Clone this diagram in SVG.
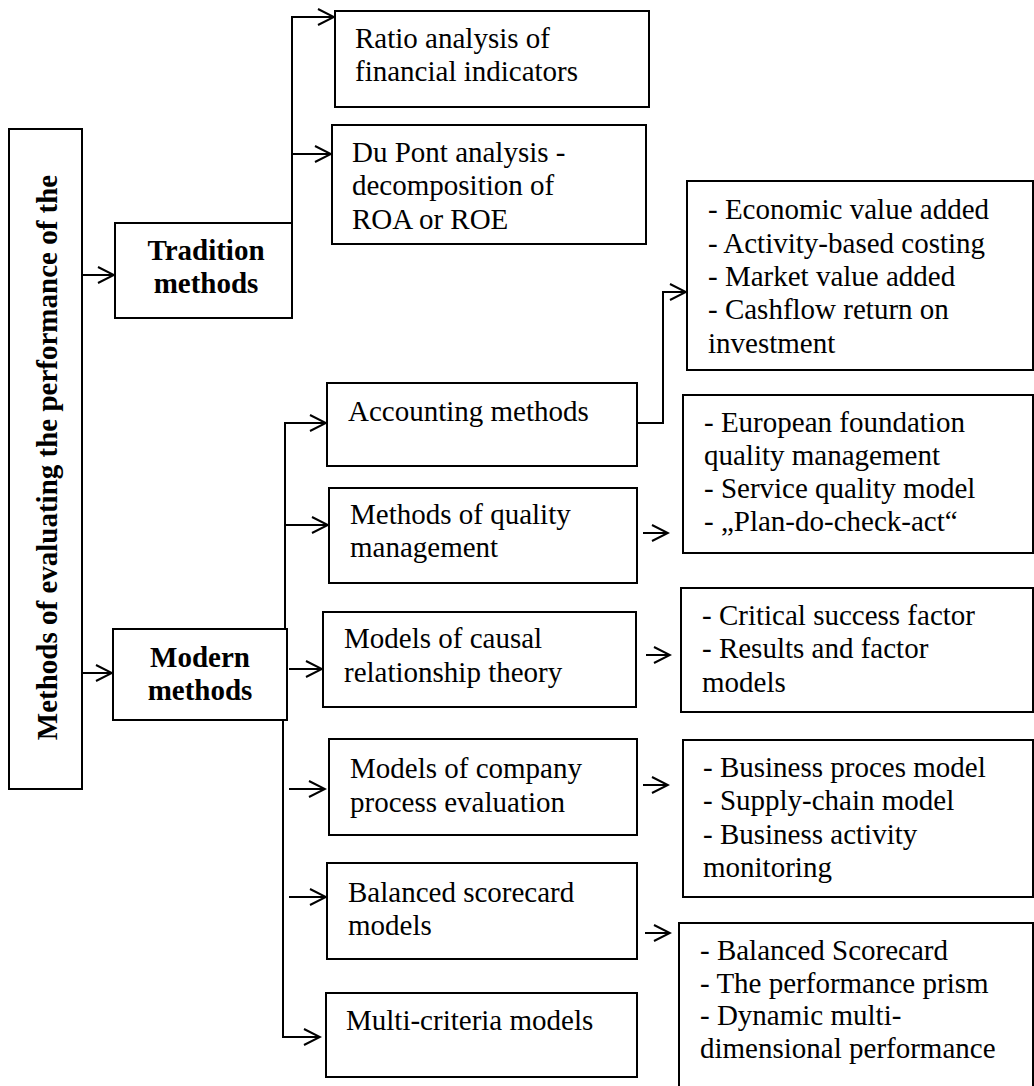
<svg xmlns="http://www.w3.org/2000/svg" width="1034" height="1086" viewBox="0 0 1034 1086">
<style>
.box{fill:#fff;stroke:#000;stroke-width:2}
.t{font-family:"Liberation Serif","Times New Roman",serif;font-size:29px;fill:#000}
.b{font-family:"Liberation Serif","Times New Roman",serif;font-size:29px;font-weight:bold;fill:#000}
.c{fill:none;stroke:#000;stroke-width:2}
</style>
<defs>
<marker id="ah" markerUnits="userSpaceOnUse" markerWidth="20" markerHeight="20" viewBox="-18 -10 20 20" refX="0" refY="0" orient="auto">
<path d="M-16,-8 L0,0 L-16,8" fill="none" stroke="#000" stroke-width="2"/>
</marker>
</defs>
<rect width="1034" height="1086" fill="#fff"/>

<g id="connectors">
<path class="c" d="M82,275 H114" marker-end="url(#ah)"/>
<path class="c" d="M82,673 H112" marker-end="url(#ah)"/>
<path class="c" d="M292,223 V17 H334" marker-end="url(#ah)"/>
<path class="c" d="M292,154 H331" marker-end="url(#ah)"/>
<path class="c" d="M285,629 V423 H326" marker-end="url(#ah)"/>
<path class="c" d="M285,525 H328" marker-end="url(#ah)"/>
<path class="c" d="M289,669 H322" marker-end="url(#ah)"/>
<path class="c" d="M289,789 H325" marker-end="url(#ah)"/>
<path class="c" d="M289,897 H326" marker-end="url(#ah)"/>
<path class="c" d="M283,720 V1037 H320" marker-end="url(#ah)"/>
<path class="c" d="M637,423 H663 V292 H686" marker-end="url(#ah)"/>
<path class="c" d="M643,533 H668" marker-end="url(#ah)"/>
<path class="c" d="M646,655 H670" marker-end="url(#ah)"/>
<path class="c" d="M643,785 H668" marker-end="url(#ah)"/>
<path class="c" d="M645,933 H670" marker-end="url(#ah)"/>
</g>

<g id="root">
<rect class="box" x="9" y="129" width="73" height="660"/>
<text class="b" transform="translate(57,457.5) rotate(-90)" text-anchor="middle">Methods of evaluating the performance of the</text>
</g>

<g id="tradition">
<rect class="box" x="115" y="223" width="177" height="95"/>
<text class="b" x="206" y="260" text-anchor="middle">Tradition</text>
<text class="b" x="206" y="293" text-anchor="middle">methods</text>
</g>

<g id="modern">
<rect class="box" x="113" y="629" width="174" height="91"/>
<text class="b" x="200" y="667" text-anchor="middle">Modern</text>
<text class="b" x="200" y="700" text-anchor="middle">methods</text>
</g>

<g id="ratio">
<rect class="box" x="335" y="11" width="314" height="96"/>
<text class="t" x="355" y="48">Ratio analysis of</text>
<text class="t" x="355" y="81">financial indicators</text>
</g>

<g id="dupont">
<rect class="box" x="332" y="125" width="314" height="119"/>
<text class="t" x="352" y="162">Du Pont analysis -</text>
<text class="t" x="352" y="195">decomposition of</text>
<text class="t" x="352" y="229">ROA or ROE</text>
</g>

<g id="accounting">
<rect class="box" x="327" y="383" width="310" height="83"/>
<text class="t" x="348" y="421">Accounting methods</text>
</g>

<g id="quality">
<rect class="box" x="329" y="488" width="308" height="95"/>
<text class="t" x="350" y="524">Methods of quality</text>
<text class="t" x="350" y="557">management</text>
</g>

<g id="causal">
<rect class="box" x="323" y="612" width="313" height="95"/>
<text class="t" x="344" y="648">Models of causal</text>
<text class="t" x="344" y="682">relationship theory</text>
</g>

<g id="company">
<rect class="box" x="329" y="739" width="308" height="96"/>
<text class="t" x="350" y="778">Models of company</text>
<text class="t" x="350" y="812">process evaluation</text>
</g>

<g id="bscmodels">
<rect class="box" x="327" y="863" width="310" height="96"/>
<text class="t" x="348" y="902">Balanced scorecard</text>
<text class="t" x="348" y="935">models</text>
</g>

<g id="multi">
<rect class="box" x="326" y="993" width="311" height="84"/>
<text class="t" x="346" y="1030">Multi-criteria models</text>
</g>

<g id="economic">
<rect class="box" x="687" y="181" width="346" height="189"/>
<text class="t" x="708" y="219">- Economic value added</text>
<text class="t" x="708" y="253">- Activity-based costing</text>
<text class="t" x="708" y="286">- Market value added</text>
<text class="t" x="708" y="319">- Cashflow return on</text>
<text class="t" x="708" y="353">investment</text>
</g>

<g id="european">
<rect class="box" x="683" y="395" width="350" height="158"/>
<text class="t" x="704" y="432">- European foundation</text>
<text class="t" x="704" y="465">quality management</text>
<text class="t" x="704" y="498">- Service quality model</text>
<text class="t" x="704" y="531">- „Plan-do-check-act“</text>
</g>

<g id="critical">
<rect class="box" x="681" y="588" width="352" height="124"/>
<text class="t" x="702" y="625">- Critical success factor</text>
<text class="t" x="702" y="658">- Results and factor</text>
<text class="t" x="702" y="692">models</text>
</g>

<g id="business">
<rect class="box" x="683" y="740" width="350" height="157"/>
<text class="t" x="703" y="777">- Business proces model</text>
<text class="t" x="703" y="810">- Supply-chain model</text>
<text class="t" x="703" y="844">- Business activity</text>
<text class="t" x="703" y="877">monitoring</text>
</g>

<g id="bsc">
<rect class="box" x="679" y="923" width="354" height="180"/>
<text class="t" x="700" y="960">- Balanced Scorecard</text>
<text class="t" x="700" y="993">- The performance prism</text>
<text class="t" x="700" y="1025">- Dynamic multi-</text>
<text class="t" x="700" y="1058">dimensional performance</text>
</g>
</svg>
